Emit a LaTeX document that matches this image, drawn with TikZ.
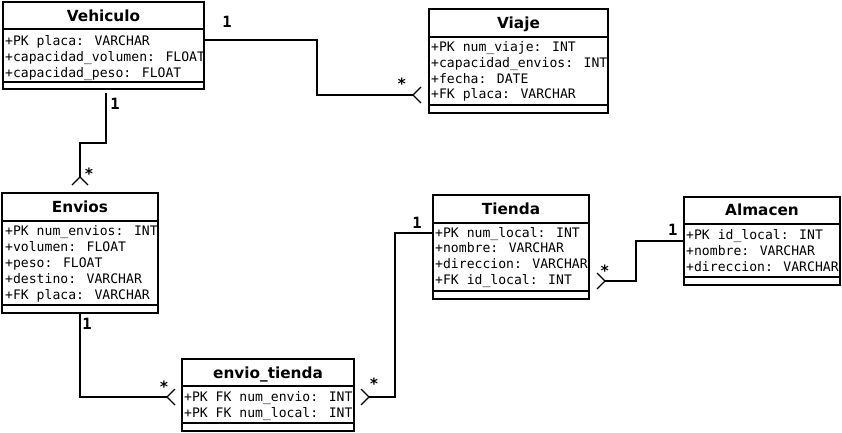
\documentclass[tikz,border=0pt]{standalone}
\usepackage{fontspec}
\setmainfont{DejaVu Sans}
\newfontfamily\monof{DejaVu Sans Mono}
\newcommand\titlef{\bfseries\fontsize{15.3}{17}\selectfont}
\newcommand\attrf{\monof\fontsize{13.1}{15}\selectfont}
\newcommand\multf{\monof\bfseries\fontsize{15.5}{17}\selectfont}
\tikzset{
  cls/.style={draw, line width=1.5pt, inner sep=0pt, outer sep=0pt, anchor=north west},
  rulel/.style={line width=1.5pt},
  conn/.style={line width=1.5pt},
  foot/.style={line width=1.3pt},
  ttl/.style={font=\titlef, anchor=base, inner sep=0pt},
  attr/.style={font=\attrf, anchor=base west, inner sep=0pt},
  mult/.style={font=\multf, anchor=base, inner sep=0pt},
}
\newcommand\attrlist[4]{\foreach \t [count=\i] in {#4}{\node[attr] (#1\i) at (#2,{#3+4.8+15.8*(\i-1)}) {\t};}}
\begin{document}
\begin{tikzpicture}[x=1pt,y=-1pt]
\useasboundingbox (0,0) rectangle (842,433);
% Vehiculo
\node[cls, minimum width=201pt, minimum height=87pt] (veh) at (3,2) {};
\draw[rulel] (3,29) -- (204,29) (3,82) -- (204,82);
\node[ttl] (vehT) at (103.5,21.1) {Vehiculo};
\attrlist{vehA}{5}{40.7}{+PK placa: VARCHAR,+capacidad\_volumen: FLOAT,+capacidad\_peso: FLOAT}
% Viaje
\node[cls, minimum width=179pt, minimum height=104pt] (via) at (429,9) {};
\draw[rulel] (429,37) -- (608,37) (429,105) -- (608,105);
\node[ttl] (viaT) at (518.5,28.6) {Viaje};
\attrlist{viaA}{431}{46.7}{+PK num\_viaje: INT,+capacidad\_envios: INT,+fecha: DATE,+FK placa: VARCHAR}
% Envios
\node[cls, minimum width=156pt, minimum height=120pt] (env) at (2,193) {};
\draw[rulel] (2,221) -- (158,221) (2,305) -- (158,305);
\node[ttl] (envT) at (80,212.3) {Envios};
\attrlist{envA}{5}{231}{+PK num\_envios: INT,+volumen: FLOAT,+peso: FLOAT,+destino: VARCHAR,+FK placa: VARCHAR}
% envio_tienda
\node[cls, minimum width=172pt, minimum height=72pt] (et) at (182,359) {};
\draw[rulel] (182,386) -- (354,386) (182,423) -- (354,423);
\node[ttl] (etT) at (268,378.1) {envio\_tienda};
\attrlist{etA}{184}{397}{+PK FK num\_envio: INT,+PK FK num\_local: INT}
% Tienda
\node[cls, minimum width=156pt, minimum height=104pt] (tie) at (433,195) {};
\draw[rulel] (433,223) -- (589,223) (433,291) -- (589,291);
\node[ttl] (tieT) at (511,214.1) {Tienda};
\attrlist{tieA}{435}{232.3}{+PK num\_local: INT,+nombre: VARCHAR,+direccion: VARCHAR,+FK id\_local: INT}
% Almacen
\node[cls, minimum width=156pt, minimum height=88pt] (alm) at (684,197) {};
\draw[rulel] (684,224) -- (840,224) (684,277) -- (840,277);
\node[ttl] (almT) at (762,215.9) {Almacen};
\attrlist{almA}{686}{234.7}{+PK id\_local: INT,+nombre: VARCHAR,+direccion: VARCHAR}
% connectors
\coordinate (p1) at (204,40);
\coordinate (p1b) at (413,95);
\draw[conn] (p1) -- ++(113,0) |- (p1b);
\draw[foot] (p1b) ++(8,-8) -- (p1b) -- ++(8,8);
\coordinate (p2) at (106,93);
\coordinate (p2b) at (80,177);
\draw[conn] (p2) -- ++(0,50) -| (p2b);
\draw[foot] (p2b) ++(-8,8) -- (p2b) -- ++(8,8);
\coordinate (p3b) at (167,397);
\draw[conn] (env.south) |- (p3b);
\draw[foot] (p3b) ++(8,-8) -- (p3b) -- ++(8,8);
\coordinate (p4) at (433,233);
\coordinate (p4b) at (369,397);
\draw[conn] (p4) -- ++(-38,0) |- (p4b);
\draw[foot] (p4b) ++(-8,-8) -- (p4b) -- ++(-8,8);
\coordinate (p5) at (684,241);
\coordinate (p5b) at (605,281);
\draw[conn] (p5) -- ++(-48,0) |- (p5b);
\draw[foot] (p5b) ++(-8,-8) -- (p5b) -- ++(-8,8);
% multiplicities
\node[mult] (m1) at (227,27.2) {1};
\node[mult] (m2) at (401.7,89.6) {*};
\node[mult] (m3) at (115,109.7) {1};
\node[mult] (m4) at (89,179.6) {*};
\node[mult] (m5) at (87,329.7) {1};
\node[mult] (m6) at (164,392.9) {*};
\node[mult] (m7) at (374,389.9) {*};
\node[mult] (m8) at (417,228.4) {1};
\node[mult] (m9) at (604.7,276.6) {*};
\node[mult] (m10) at (672.7,235) {1};
\end{tikzpicture}
\end{document}
